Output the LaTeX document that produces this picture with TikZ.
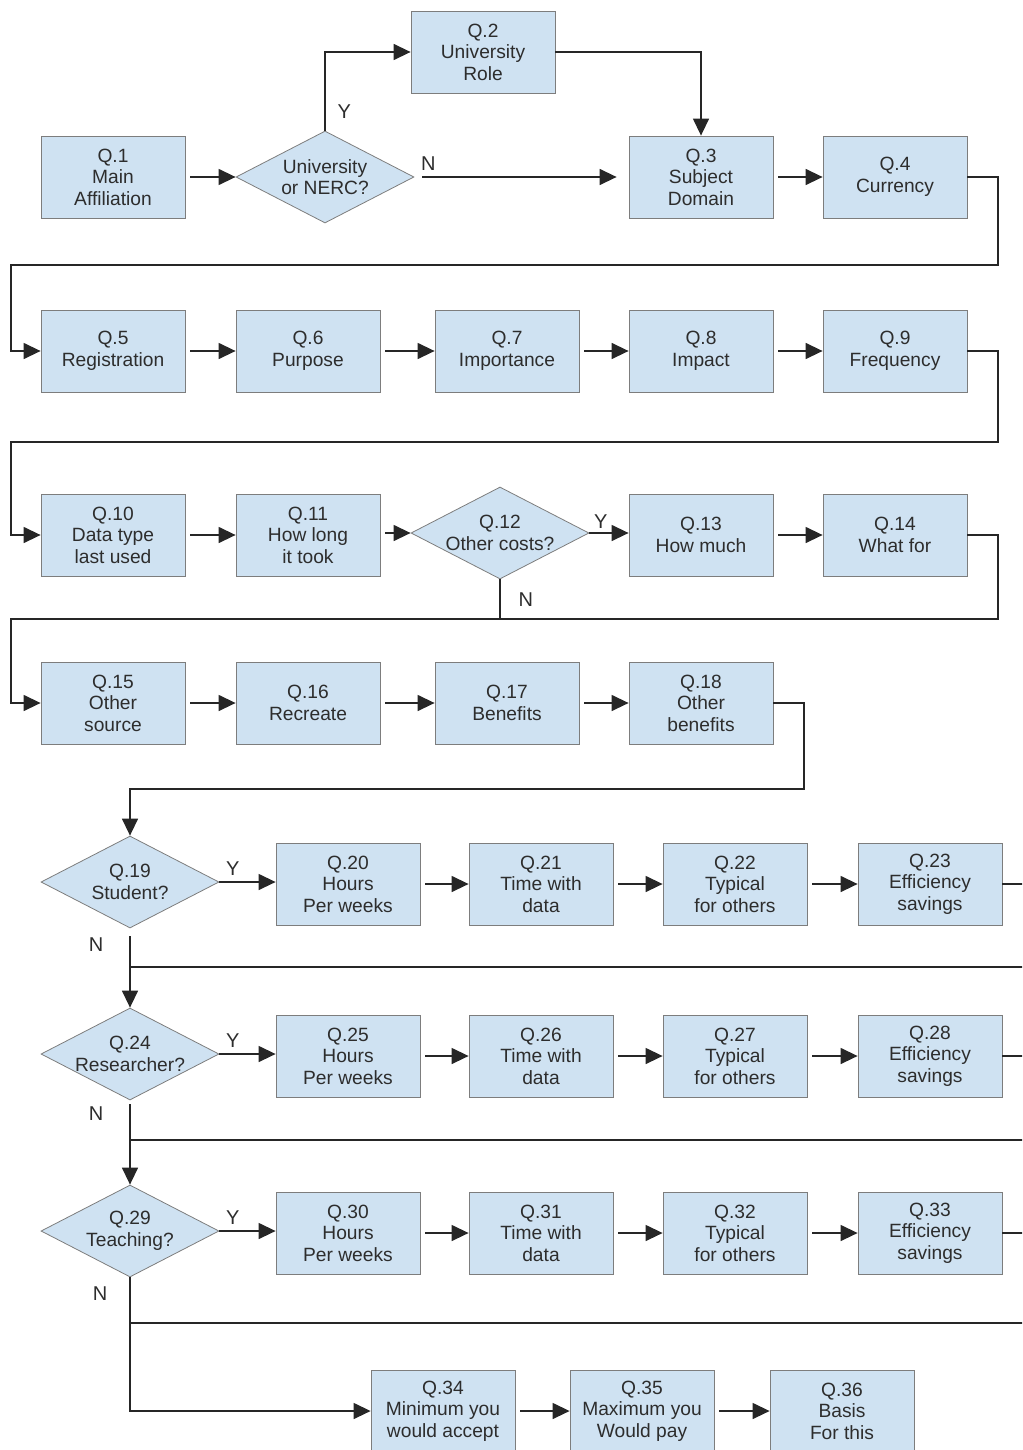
\documentclass[tikz,border=0pt]{standalone}
\usepackage{fontspec}
\setmainfont{Liberation Sans}
\usetikzlibrary{shapes.geometric,arrows.meta}
\definecolor{boxblue}{RGB}{207,226,242}
\definecolor{boxline}{RGB}{125,125,125}
\definecolor{textgray}{RGB}{45,45,45}
\tikzset{
	qbox/.style={draw=boxline, fill=boxblue, minimum width=72pt, minimum height=41pt, inner sep=1pt,
		align=center, text=textgray, font=\fontsize{9.6}{10.8}\selectfont},
	qdia/.style={diamond, draw=boxline, fill=boxblue, aspect=1.9, minimum width=89pt, minimum height=46pt,
		inner xsep=-3pt, inner ysep=0pt, align=center, text=textgray, font=\fontsize{9.6}{10.8}\selectfont},
	conn/.style={line width=0.7pt, draw=black!85},
	flow/.style={conn, -{Triangle[length=8.5pt,width=8pt]}},
	gap/.style={shorten <=2.5pt},
	yn/.style={text=textgray, font=\fontsize{10}{12}\selectfont, inner sep=1pt}
}
\begin{document}
\begin{tikzpicture}[x=0.5pt,y=-0.5pt]
			\def\leftrail{11}
			\def\rightrail{998}
			\useasboundingbox (0,0) rectangle (1022,1450);
			\clip (0,0) rectangle (1022,1450);
			%first row
			\node[qbox] (q1) at (113,177) {Q.1\\Main\\Affiliation};
			\node[qdia] (q1a) at (325,177) {University\\or NERC?};
			\node[qbox] (q2) at (483,52) {Q.2\\University\\Role};
			\node[qbox] (q3) at (701,177) {Q.3\\Subject\\Domain};
			\node[qbox] (q4) at (895,177) {Q.4\\Currency};
			% second row
			\foreach \n/\x/\txt in {5/113/Registration,6/308/Purpose,7/507/Importance,8/701/Impact,9/895/Frequency}
				\node[qbox] (q\n) at (\x,351) {Q.\n\\\txt};
			% third row
			\node[qbox] (q10) at (113,535) {Q.10\\Data type\\last used};
			\node[qbox] (q11) at (308,535) {Q.11\\How long\\ it took};
			\node[qdia] (q12) at (500,533) {Q.12\\Other costs?};
			\node[qbox] (q13) at (701,535) {Q.13\\How much};
			\node[qbox] (q14) at (895,535) {Q.14\\What for};
			% fourth row
			\foreach \n/\x/\txt in {15/113/{Other\\source},16/308/Recreate,17/507/Benefits,18/701/{Other\\benefits}}
				\node[qbox] (q\n) at (\x,703) {Q.\n\\\txt};
			% connectors, rows 1 to 4
			\draw[flow,gap] (q1) -- (q1a);
			\draw[flow] (q1a.north) |- (q2.west) node[pos=0.12, right=5pt, yn] {Y};
			\draw[flow, shorten <=4pt, shorten >=6pt] (q1a.east) -- (q1a.east -| q3.west) node[pos=0, above right=2pt, yn] {N};
			\draw[flow] (q2.east) -| (q3.north);
			\draw[flow,gap] (q3) -- (q4);
			\draw[flow] (q4.east) -| (\rightrail,265) -- (\leftrail,265) |- (q5.west);
			\foreach \a/\b in {5/6,6/7,7/8,8/9}
				\draw[flow,gap] (q\a) -- (q\b);
			\draw[flow] (q9.east) -| (\rightrail,442) -- (\leftrail,442) |- (q10.west);
			\draw[flow,gap] (q10) -- (q11);
			\draw[flow,gap] (q11.east |- q12.west) -- (q12.west);
			\draw[flow] (q12.east) -- (q12.east -| q13.west) node[pos=0, above right=1pt, yn] {Y};
			\draw[flow,gap] (q13) -- (q14);
			\draw[conn] (q12.south) -- (500,619) node[midway, right=8pt, yn] {N};
			\draw[flow] (q14.east) -| (\rightrail,619) -- (\leftrail,619) |- (q15.west);
			\foreach \a/\b in {15/16,16/17,17/18}
				\draw[flow,gap] (q\a) -- (q\b);
			% student, researcher, teaching
			\foreach \r/\y/\who/\back in {19/884/Student?/967,24/1056/Researcher?/1140,29/1233/Teaching?/1323}
				{
					\node[qdia] (q\r) at (130,\y-2) {Q.\r\\\who};
					\foreach \k/\x/\txt in {1/348/{Hours\\Per weeks},2/541/{Time with\\data},3/735/{Typical\\for others},4/930/{Efficiency\\savings}}
						{
							\pgfmathtruncatemacro\n{\r+\k}
							\node[qbox] (q\n) at (\x,\y) {Q.\n\\\txt};
						}
					\pgfmathtruncatemacro\qa{\r+1}
					\pgfmathtruncatemacro\qb{\r+2}
					\pgfmathtruncatemacro\qc{\r+3}
					\pgfmathtruncatemacro\qd{\r+4}
					\draw[flow] (q\r.east) -- (q\r.east -| q\qa.west) node[pos=0, above right=2pt, yn] {Y};
					\draw[flow,gap] (q\qa) -- (q\qb);
					\draw[flow,gap] (q\qb) -- (q\qc);
					\draw[flow,gap] (q\qc) -- (q\qd);
					\draw[conn] (q\qd.east) -| (1040,\back) -- (130,\back);
				}
			\draw[flow] (q18.east) -| (804,789) -| (q19.north);
			\draw[flow, shorten <=4pt] (q19.south) -- (q24.north) node[pos=0.2, left=12pt, yn] {N};
			\draw[flow, shorten <=2pt] (q24.south) -- (q29.north) node[pos=0.16, left=12pt, yn] {N};
			% last row
			\node[qbox] (q34) at (443,1411) {Q.34\\Minimum you\\would accept};
			\node[qbox] (q35) at (642,1411) {Q.35\\Maximum you\\Would pay};
			\node[qbox] (q36) at (842,1411) {Q.36\\Basis\\For this};
			\draw[flow] (q29.south) |- (q34.west) node[pos=0.06, left=10pt, yn] {N};
			\draw[flow,gap] (q34) -- (q35);
			\draw[flow,gap] (q35) -- (q36);
		\end{tikzpicture}
\end{document}
